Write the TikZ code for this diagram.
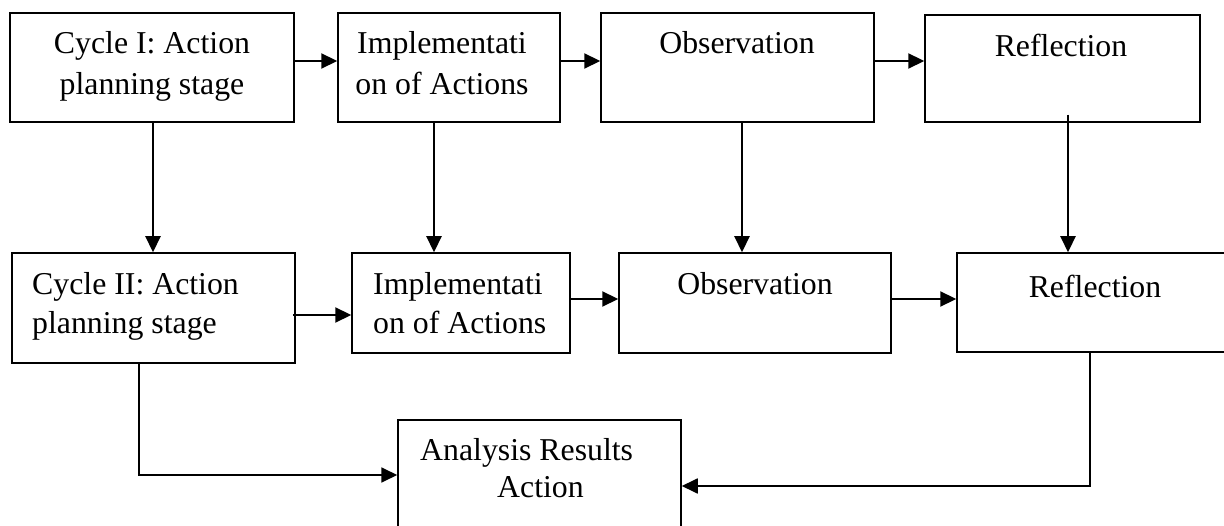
\documentclass[tikz,border=0pt]{standalone}
\usepackage{fontspec}
\setmainfont{Liberation Serif}
\usetikzlibrary{arrows.meta}
\begin{document}
\begin{tikzpicture}[x=1pt,y=-1pt,
  box/.style={draw, line width=1.5pt, rectangle, inner sep=0pt},
  txt/.style={font=\fontsize{31.8}{41}\selectfont, inner sep=0pt, anchor=north},
  txtl/.style={txt, anchor=north west, align=left},
  arr/.style={line width=2.2pt, -{Triangle[length=16pt,width=15pt]}},
  conn/.style={line width=1.8pt, -{Triangle[length=16pt,width=15pt]}},
]
\useasboundingbox (0,0) rectangle (1224,526);
% boxes
\node[box, minimum width=284pt, minimum height=109pt] (a1) at (152,67.5) {};
\node[box, minimum width=222pt, minimum height=109pt] (b1) at (449,67.5) {};
\node[box, minimum width=273pt, minimum height=109pt] (c1) at (737.5,67.5) {};
\node[box, minimum width=275pt, minimum height=107pt] (d1) at (1062.5,68.5) {};
\node[box, minimum width=283pt, minimum height=110pt] (a2) at (153.5,308) {};
\node[box, minimum width=218pt, minimum height=100pt] (b2) at (461,303) {};
\node[box, minimum width=272pt, minimum height=100pt] (c2) at (755,303) {};
\node[box, minimum width=271pt, minimum height=99pt] (d2) at (1092.5,302.5) {};
\node[box, minimum width=283pt, minimum height=125pt] (e) at (539.5,482.5) {};
% texts
\node[txt, align=center] (ta1) at (152,31) {Cycle I: Action\\planning stage};
\node[txt, align=center] (tb1) at (442,31) {Implementati\\on of Actions};
\node[txt] (tc1) at (737,31) {Observation};
\node[txt] (td1) at (1061,34) {Reflection};
\node[txtl] (ta2) at (32,272) {Cycle II: Action\\[-2pt]planning stage};
\node[txtl] (tb2) at (373,272) {Implementati\\[-2pt]on of Actions};
\node[txt] (tc2) at (755,272) {Observation};
\node[txt] (td2) at (1095,275) {Reflection};
\node[txtl] (te) at (420,438) {Analysis Results\\[-4pt]\hspace*{77pt}Action};
% helper levels
\coordinate (y1) at (0,61);
\coordinate (y2a) at (0,315);
\coordinate (y2b) at (0,299);
\coordinate (xa) at (153,0);
\coordinate (xb) at (434,0);
\coordinate (xc) at (742,0);
\coordinate (xd) at (1068,0);
\coordinate (xa2) at (139,0);
\coordinate (ya) at (0,475);
\coordinate (xd2) at (1090,0);
\coordinate (yd) at (0,486);
% connectors
\draw[arr] (a1.east |- y1) -- (b1.west |- y1);
\draw[arr] (b1.east |- y1) -- (c1.west |- y1);
\draw[arr] (c1.east |- y1) -- (d1.west |- y1);
\draw[arr] (a1.south -| xa) -- (a2.north -| xa);
\draw[arr] (b1.south -| xb) -- (b2.north -| xb);
\draw[arr] (c1.south -| xc) -- (c2.north -| xc);
\draw[arr] (d1.south -| xd) ++(0,-8) -- (d2.north -| xd);
\draw[arr] (a2.east |- y2a) ++(-3,0) -- (b2.west |- y2a);
\draw[arr] (b2.east |- y2b) -- (c2.west |- y2b);
\draw[arr] (c2.east |- y2b) -- (d2.west |- y2b);
\draw[conn] (a2.south -| xa2) |- (e.west |- ya);
\draw[conn] (d2.south -| xd2) |- (e.east |- yd);
\end{tikzpicture}
\end{document}
